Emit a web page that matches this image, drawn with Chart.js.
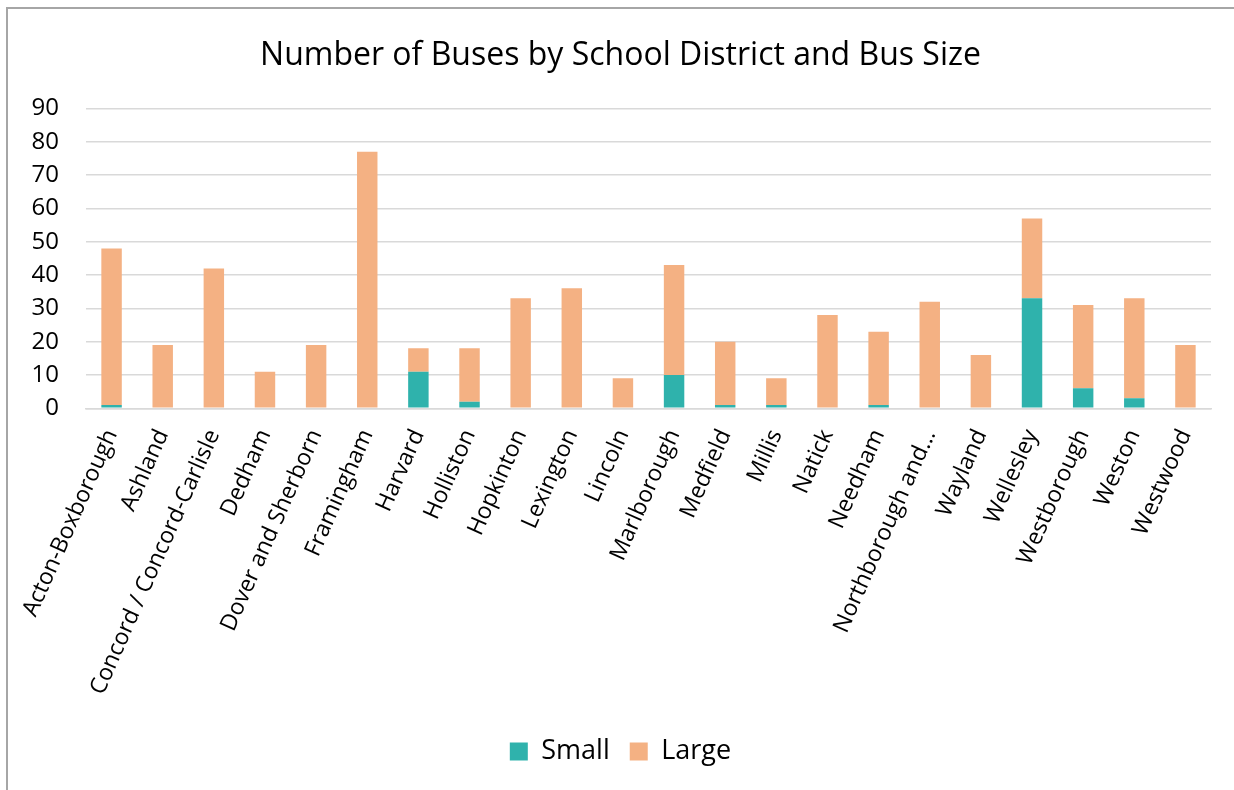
<!DOCTYPE html>
<html>
<head>
<meta charset="utf-8">
<title>Number of Buses by School District and Bus Size</title>
<script src="https://cdn.jsdelivr.net/npm/chart.js@4/dist/chart.umd.min.js"></script>
<style>
    html, body { margin: 0; padding: 0; background: #fff; overflow: hidden; }
    html { width: 1234px; height: 790px; }
    body { width: 1234px; height: 790px; position: relative; }
    .edge { position: absolute; background: #a6a6a6; }
    .edge.top { left: 6px; top: 7px; width: 1228px; height: 2px; }
    .edge.left { left: 6px; top: 7px; width: 2px; height: 783px; }
    #busChart { position: absolute; left: 8px; top: 9px; display: block; }
</style>
</head>
<body>
<div class="edge top"></div>
<div class="edge left"></div>
<canvas id="busChart" width="1224" height="781"></canvas>
<script>
// Districts along the x axis
const districts = [
    'Acton-Boxborough', 'Ashland', 'Concord / Concord-Carlisle', 'Dedham',
    'Dover and Sherborn', 'Framingham', 'Harvard', 'Holliston', 'Hopkinton',
    'Lexington', 'Lincoln', 'Marlborough', 'Medfield', 'Millis', 'Natick',
    'Needham', 'Northborough and\u2026', 'Wayland', 'Wellesley', 'Westborough',
    'Weston', 'Westwood'
];

// Bus counts per district (stacked: small on the bottom)
const smallBuses = [1, 0, 0, 0, 0, 0, 11, 2, 0, 0, 0, 10, 1, 1, 0, 1, 0, 0, 33, 6, 3, 0];
const largeBuses = [47, 19, 42, 11, 19, 77, 7, 16, 33, 36, 9, 33, 19, 8, 28, 22, 32, 16, 24, 25, 30, 19];

const yTicks = [0, 10, 20, 30, 40, 50, 60, 70, 80, 90];

const FONT = "'Open Sans', 'Noto Sans', sans-serif";
const TEAL = '#2fb2ac';
const PEACH = '#f4b183';
const GRID = '#d9d9d9';

Chart.defaults.font.family = FONT;
Chart.defaults.color = '#111';

const canvas = document.getElementById('busChart');

new Chart(canvas, {
    type: 'bar',
    data: {
        labels: districts,
        datasets: [
            {
                label: 'Small',
                data: smallBuses,
                backgroundColor: TEAL,
                borderWidth: 0,
                barPercentage: 0.4,
                categoryPercentage: 1
            },
            {
                label: 'Large',
                data: largeBuses,
                backgroundColor: PEACH,
                borderWidth: 0,
                barPercentage: 0.4,
                categoryPercentage: 1
            }
        ]
    },
    options: {
        responsive: false,
        animation: false,
        layout: {
            padding: { left: 22, right: 21, top: 0, bottom: 15 }
        },
        plugins: {
            title: {
                display: true,
                text: 'Number of Buses by School District and Bus Size',
                color: '#000',
                font: { family: FONT, size: 32, weight: 'normal' },
                padding: { top: 28, bottom: 33 }
            },
            legend: {
                display: true,
                position: 'bottom',
                labels: {
                    color: '#000',
                    font: { family: FONT, size: 27 },
                    boxWidth: 18,
                    boxHeight: 18,
                    padding: 20
                }
            },
            tooltip: { enabled: false }
        },
        scales: {
            x: {
                stacked: true,
                grid: { display: false, drawTicks: false },
                border: { display: true, color: GRID, width: 1.5 },
                ticks: {
                    autoSkip: false,
                    minRotation: 66,
                    maxRotation: 66,
                    padding: 17,
                    color: '#000',
                    font: { family: FONT, size: 23 }
                },
                // rotated labels may hang past the plot edge; keep the plot where the y axis puts it
                afterFit: (scale) => {
                    scale.paddingLeft = 0;
                    scale.paddingRight = 0;
                    scale.height += 2;
                }
            },
            y: {
                stacked: true,
                min: 0,
                max: 90,
                afterBuildTicks: (scale) => {
                    scale.ticks = yTicks.map(v => ({ value: v }));
                },
                // fixed axis width so the plot starts at the same x every time
                afterFit: (scale) => {
                    scale.width = 56;
                },
                grid: { color: GRID, lineWidth: 1.5, drawTicks: false },
                border: { display: false },
                ticks: {
                    padding: 27,
                    color: '#000',
                    font: { family: FONT, size: 24 }
                }
            }
        }
    }
});
</script>
</body>
</html>
